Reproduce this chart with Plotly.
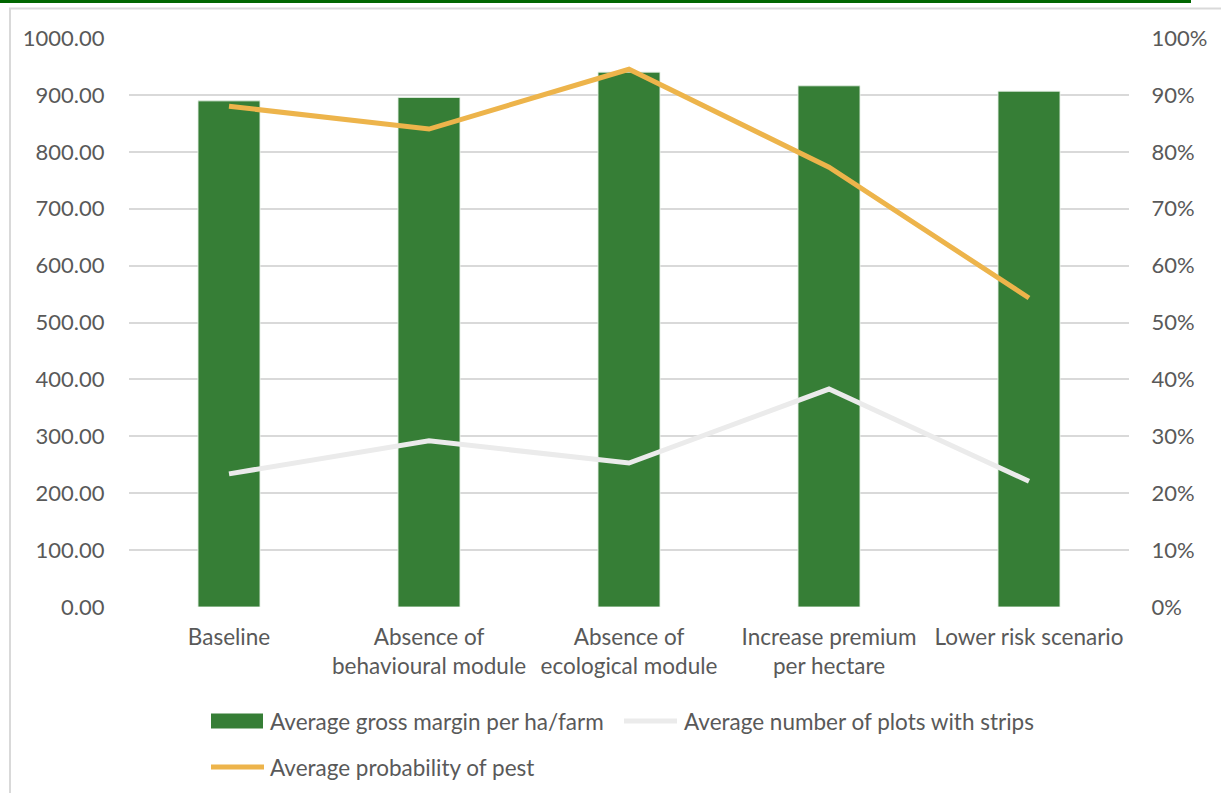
import plotly.graph_objects as go

categories = ["Baseline", "Absence of<br>behavioural module", "Absence of<br>ecological module",
              "Increase premium<br>per hectare", "Lower risk scenario"]
gross_margin = [889.5, 895.6, 940.0, 916.0, 906.5]
plots_with_strips = [234, 292, 253, 383, 221]
prob_pest = [0.880, 0.840, 0.945, 0.773, 0.543]

left_ticks = [i * 100 for i in range(11)]
left_labels = [f"{v:.2f}" for v in left_ticks]
right_ticks = [i / 10 for i in range(11)]
right_labels = [f"{int(round(v*100))}%" for v in right_ticks]

FONT = "Lato"
TXT = "#595959"
GREEN = "#367E36"
GRAY_LINE = "#EBEBEB"
YELLOW = "#EDB44B"
GRID = "#D9D9D9"

fig = go.Figure()
fig.add_trace(go.Bar(x=categories, y=gross_margin, name="Average gross margin per ha/farm",
                     marker=dict(color=GREEN, line=dict(color="rgba(230,240,230,0.9)", width=1)),
                     width=0.31, yaxis="y", showlegend=False))
fig.add_trace(go.Scatter(x=categories, y=plots_with_strips, name="Average number of plots with strips",
                         mode="lines", line=dict(color=GRAY_LINE, width=5), yaxis="y", showlegend=False))
fig.add_trace(go.Scatter(x=categories, y=prob_pest, name="Average probability of pest",
                         mode="lines", line=dict(color=YELLOW, width=5), yaxis="y2", showlegend=False))

W, H = 1221, 793
L, R, T, B = 129, 92, 38, 186
PW, PH = W - L - R, H - T - B

def px(x):
    return (x - L) / PW

def py(y):
    return (T + PH - y) / PH

shapes = [
    dict(type="line", xref="paper", yref="paper", x0=px(0), x1=px(1191), y0=py(1.5), y1=py(1.5),
         line=dict(color="#006600", width=3)),
    dict(type="rect", xref="paper", yref="paper", x0=px(10), x1=px(1240), y0=py(820), y1=py(8.5),
         line=dict(color=GRID, width=2), layer="below"),
    dict(type="rect", xref="paper", yref="paper", x0=px(211), x1=px(263), y0=py(728.5), y1=py(713.5),
         fillcolor=GREEN, line=dict(width=0)),
    dict(type="line", xref="paper", yref="paper", x0=px(624), x1=px(677), y0=py(721), y1=py(721),
         line=dict(color=GRAY_LINE, width=5)),
    dict(type="line", xref="paper", yref="paper", x0=px(211), x1=px(264), y0=py(767), y1=py(767),
         line=dict(color=YELLOW, width=5)),
]

legend_items = [
    ("Average gross margin per ha/farm", 268, 721),
    ("Average number of plots with strips", 682, 721),
    ("Average probability of pest", 268, 767),
]
annotations = [
    dict(text=t, xref="paper", yref="paper", x=px(x), y=py(y), xanchor="left", yanchor="middle",
         showarrow=False, font=dict(family=FONT, size=22.5, color=TXT))
    for t, x, y in legend_items
]

fig.update_layout(
    width=W, height=H,
    margin=dict(l=L, r=R, t=T, b=B),
    paper_bgcolor="white", plot_bgcolor="white",
    font=dict(family=FONT, size=22, color=TXT),
    showlegend=False,
    bargap=0.69,
    xaxis=dict(showgrid=False, showline=False, zeroline=False, ticks="outside", ticklen=10,
               tickcolor="rgba(0,0,0,0)", tickfont=dict(family=FONT, size=22.5, color=TXT)),
    yaxis=dict(range=[0, 1000], tickvals=left_ticks, ticktext=left_labels, showgrid=True,
               gridcolor=GRID, gridwidth=1.5, zeroline=False, showline=False,
               ticks="outside", ticklen=19, tickcolor="rgba(0,0,0,0)",
               tickfont=dict(family=FONT, size=22, color=TXT)),
    yaxis2=dict(range=[0, 1], overlaying="y", side="right", tickvals=right_ticks, ticktext=right_labels,
                showgrid=False, zeroline=False, showline=False,
                ticks="outside", ticklen=17, tickcolor="rgba(0,0,0,0)",
                tickfont=dict(family=FONT, size=22, color=TXT)),
    shapes=shapes,
    annotations=annotations,
)

fig.write_html("out.html")
